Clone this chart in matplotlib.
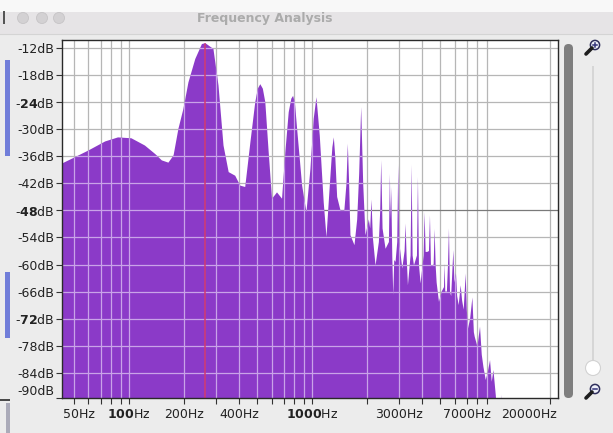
import matplotlib
matplotlib.use("Agg")
import matplotlib.pyplot as plt
from matplotlib.patches import Rectangle, Circle, FancyBboxPatch
from matplotlib.lines import Line2D
from matplotlib.ticker import FixedLocator, NullFormatter
from matplotlib.transforms import ScaledTranslation

plt.rcParams['font.family'] = ['DejaVu Sans']
plt.rcParams['mathtext.fontset'] = 'dejavusans'

# Spectrum outline: frequency (Hz) and level (dB)
freq_hz = [43, 50, 60, 74, 87, 103, 122, 139, 151, 164, 175, 186, 198, 211, 230,
           250, 261, 289, 308, 328, 350, 380, 405, 431, 460, 489, 505, 521, 538,
           555, 579, 604, 643, 685, 714, 745, 770, 787, 805, 828, 882, 931, 979,
           1020, 1056, 1101, 1157, 1198, 1249, 1290, 1314, 1340, 1370, 1429, 1500,
           1541, 1567, 1593, 1620, 1704, 1763, 1807, 1854, 1901, 1957, 2041, 2076,
           2111, 2147, 2221, 2316, 2355, 2385, 2426, 2519, 2628, 2660, 2683, 2706,
           2741, 2775, 2810, 2857, 2918, 2955, 2992, 3108, 3201, 3241, 3282, 3338,
           3451, 3496, 3540, 3600, 3739, 3786, 3834, 3915, 4067, 4118, 4170, 4259,
           4349, 4404, 4460, 4536, 4613, 4671, 4731, 4790, 4933, 5102, 5254, 5298,
           5340, 5450, 5526, 5593, 5666, 5750, 5911, 5990, 6109, 6200, 6320, 6482,
           6600, 6732, 6904, 7000, 7108, 7300, 7511, 7650, 7732, 8000, 8267, 8450,
           8629, 8883, 9100, 9378, 9581, 9788, 10080, 10330, 10700, 10830, 10950,
           22050]
level_db = [-37.6, -36.3, -34.7, -32.7, -31.8, -32.0, -33.6, -35.5, -36.9, -37.4,
            -35.8, -29.9, -25.5, -19.6, -14.4, -11.1, -10.9, -12.2, -20.3, -33.6,
            -39.5, -40.3, -42.5, -42.8, -32.9, -24.0, -21.0, -20.0, -21.0, -24.0,
            -35.1, -45.4, -44.0, -45.4, -35.1, -26.2, -23.2, -22.6, -24.0, -29.9,
            -42.5, -48.4, -38.8, -27.7, -22.9, -31.4, -46.2, -53.9, -42.5, -34.0,
            -31.8, -36.5, -45.0, -48.0, -48.0, -42.0, -33.2, -42.0, -53.5, -55.7,
            -50.0, -40.0, -25.1, -42.0, -53.5, -50.0, -52.0, -45.6, -54.0, -60.2,
            -55.0, -48.0, -36.9, -52.0, -56.5, -55.0, -39.9, -50.0, -42.8, -58.0,
            -66.8, -59.0, -59.4, -55.0, -37.9, -55.0, -60.9, -57.0, -50.9, -58.0,
            -64.6, -58.0, -37.9, -58.0, -60.2, -58.0, -40.6, -60.0, -64.2, -58.0,
            -48.4, -57.2, -57.2, -57.0, -49.1, -60.2, -60.2, -60.0, -52.1, -60.2,
            -64.0, -68.3, -66.0, -65.0, -59.8, -66.0, -66.0, -60.0, -52.0, -66.0,
            -67.0, -56.8, -64.0, -62.0, -67.0, -69.0, -64.6, -68.0, -70.0, -62.0,
            -70.0, -74.2, -72.0, -67.3, -75.0, -76.0, -78.2, -73.8, -80.0, -82.7,
            -85.6, -84.0, -81.2, -86.0, -83.4, -89.0, -95.0, -95.0, -88.9, -95.0,
            -95.0]

fundamental_hz = 261

level_ticks = [-12, -18, -24, -30, -36, -42, -48, -54, -60, -66, -72, -78, -84]
level_labels = ['-12dB', '-18dB', r'-$\mathbf{24}$dB', '-30dB', '-36dB', '-42dB',
                r'-$\mathbf{48}$dB', '-54dB', '-60dB', '-66dB', r'-$\mathbf{72}$dB',
                '-78dB', '-84dB']
floor_label = '-90dB'

freq_ticks = [50, 100, 200, 400, 1000, 3000, 7000, 20000]
freq_labels = ['50Hz', r'$\mathbf{100}$Hz', '200Hz', '400Hz', r'$\mathbf{1000}$Hz',
               '3000Hz', '7000Hz', '20000Hz']
grid_freqs = [50, 60, 70, 80, 90, 100, 200, 300, 400, 500, 600, 700, 800, 900,
              1000, 2000, 3000, 4000, 5000, 6000, 7000, 8000, 9000, 20000]

W, H = 613, 433
fig = plt.figure(figsize=(W / 100, H / 100), dpi=100)
fig.patch.set_facecolor('#ececec')

# ---- window chrome, drawn in pixel coordinates ----
ui = fig.add_axes([0, 0, 1, 1])
ui.set_xlim(0, W)
ui.set_ylim(H, 0)
ui.axis('off')
ui.set_zorder(0)

ui.add_patch(Rectangle((0, 0), W, 12, color='#f8f8f8', lw=0))
ui.add_patch(Rectangle((0, 12), W, 22, color='#e6e4e6', lw=0))
ui.add_line(Line2D([0, W], [34, 34], color='#d4d4d4', lw=0.8))
for cx in (23, 42, 59):
    ui.add_patch(Circle((cx, 18), 5.5, fc='#d3d1d3', ec='#c6c4c6', lw=0.6))
ui.text(265, 18.5, 'Frequency Analysis', ha='center', va='center',
        fontsize=9, fontweight='bold', color='#ababab')

# side marks of the neighbouring window
ui.add_patch(Rectangle((3, 11), 2, 13, color='#555555', lw=0))
ui.add_patch(Rectangle((5, 60), 5, 96, color='#3d4fd2', lw=0, alpha=0.7))
ui.add_patch(Rectangle((5, 272), 5, 66, color='#3d4fd2', lw=0, alpha=0.7))
ui.add_patch(Rectangle((0, 399), 10, 2, color='#4a4a4a', lw=0))
ui.add_patch(Rectangle((6, 403), 4, 30, color='#9090a4', lw=0, alpha=0.7))

# vertical scrollbar
ui.add_patch(FancyBboxPatch((564, 44), 9, 354,
                            boxstyle='round,pad=0,rounding_size=4.5',
                            fc='#7e7e7e', ec='none'))

# zoom slider
ui.add_patch(Rectangle((592, 66), 2, 296, color='#d6d6d6', lw=0))
ui.add_patch(Circle((593, 368), 7.5, fc='white', ec='#d2d2d2', lw=0.8))


def magnifier(cx, cy, plus):
    ui.add_line(Line2D([cx - 3.0, cx - 9.0], [cy + 3.0, cy + 9.0],
                       color='#1e1e1e', lw=2.6, solid_capstyle='round'))
    ui.add_patch(Circle((cx, cy), 4.6, fc='#eef0fa', ec='#2f2f5c', lw=1.1))
    ui.add_line(Line2D([cx - 2.4, cx + 2.4], [cy, cy], color='#33337a', lw=1.1))
    if plus:
        ui.add_line(Line2D([cx, cx], [cy - 2.4, cy + 2.4], color='#33337a', lw=1.1))


magnifier(595, 45, True)
magnifier(595, 389, False)

# ---- spectrum plot ----
left, right, top, bottom = 62, 558, 40, 398
ax = fig.add_axes([left / W, (H - bottom) / H, (right - left) / W, (bottom - top) / H])
ax.set_zorder(2)
ax.set_facecolor('white')
ax.set_xscale('log')
ax.set_xlim(43, 22050)
ylo, yhi = -89.6, -10.2
ax.set_ylim(ylo, yhi)

grid_plain = '#b6b6b6'
grid_dark = '#7a7a7a'
grid_on_fill = '#c9a3e8'

for f in grid_freqs:
    ax.axvline(f, color=grid_plain, lw=0.9, zorder=0.5)
for db in level_ticks:
    ax.axhline(db, color=grid_dark if db == -48 else grid_plain, lw=0.9, zorder=0.5)

spec = ax.fill_between(freq_hz, level_db, -120, color='#8b3ac8', lw=0, zorder=1)
spec_path = spec.get_paths()[0]

# grid lines seen through the filled spectrum
for f in grid_freqs:
    ln = ax.axvline(f, color=grid_on_fill, lw=0.9, zorder=1.5)
    ln.set_clip_path(spec_path, ax.transData)
for db in level_ticks:
    ln = ax.axhline(db, color=grid_on_fill, lw=0.9, zorder=1.5)
    ln.set_clip_path(spec_path, ax.transData)

peak_line = ax.axvline(fundamental_hz, color='#d23a70', lw=1.1, zorder=1.6)
peak_line.set_clip_path(spec_path, ax.transData)

for s in ax.spines.values():
    s.set_color('#2a2a2a')
    s.set_linewidth(1.0)
    s.set_zorder(3)

# y axis
ax.set_yticks(level_ticks + [ylo])
ax.set_yticklabels(level_labels + [floor_label])
ax.tick_params(axis='y', length=4.5, width=0.8, pad=1, labelsize=9,
               colors='#333333', labelcolor='#222222')
ax.get_yticklabels()[-1].set_va('bottom')

# x axis
ax.xaxis.set_major_locator(FixedLocator(freq_ticks))
ax.xaxis.set_minor_locator(FixedLocator([f for f in grid_freqs if f not in freq_ticks]))
ax.xaxis.set_minor_formatter(NullFormatter())
ax.set_xticklabels(freq_labels)
ax.tick_params(axis='x', which='both', length=4.5, width=0.8, pad=2.5, labelsize=9,
               colors='#333333', labelcolor='#222222')

xlabels = ax.get_xticklabels()
xlabels[0].set_transform(xlabels[0].get_transform() +
                         ScaledTranslation(5 / 100, 0, fig.dpi_scale_trans))
xlabels[-1].set_transform(xlabels[-1].get_transform() +
                          ScaledTranslation(-21 / 100, 0, fig.dpi_scale_trans))

fig.savefig('out.png', dpi=100, facecolor=fig.get_facecolor())
